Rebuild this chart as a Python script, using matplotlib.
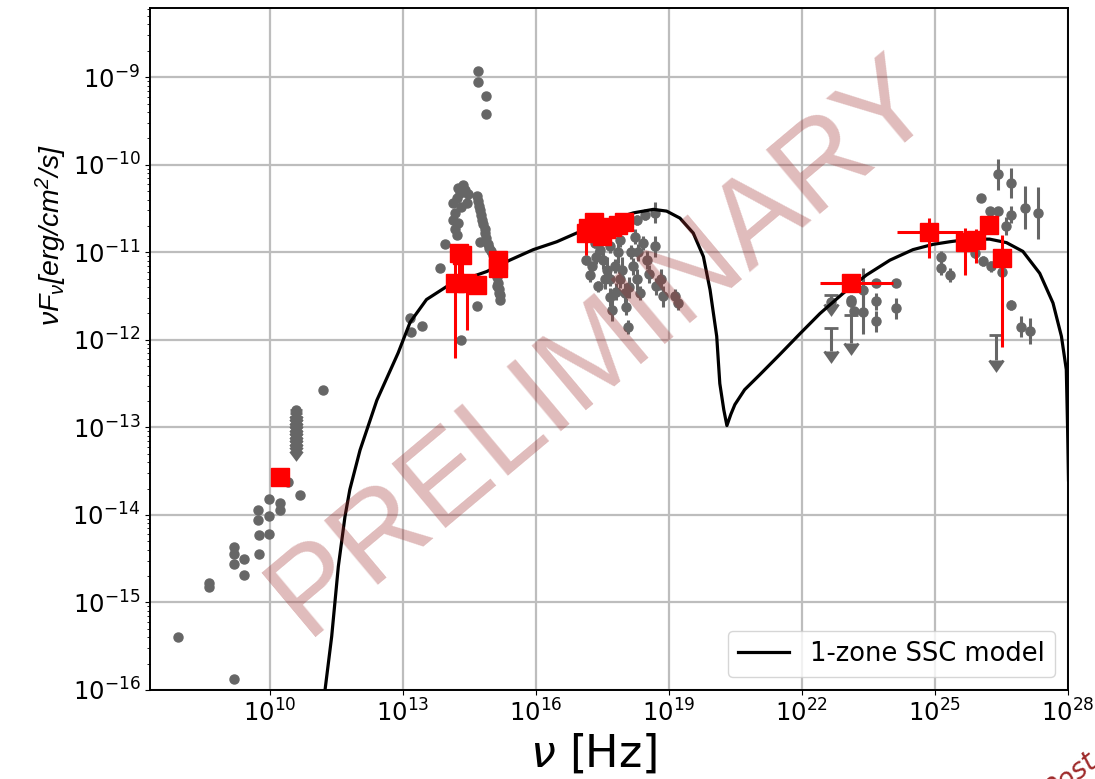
import numpy as np
import matplotlib
matplotlib.use('Agg')
import matplotlib.pyplot as plt
from matplotlib.ticker import NullLocator

# all values are log10(nu / Hz) and log10(nuFnu / erg cm^-2 s^-1); errors in dex

# archival radio points
radio_lognu = [7.92, 8.61, 8.61, 9.19, 9.19, 9.19, 9.19, 9.41, 9.41, 9.72, 9.72,
               9.75, 9.75, 9.98, 9.98, 9.98, 10.23, 10.23, 10.41, 10.68, 11.19]
radio_logf = [-15.39, -14.78, -14.82, -15.88, -14.37, -14.45, -14.56, -14.50, -14.69, -13.94, -14.06,
              -14.23, -14.45, -13.82, -14.01, -14.22, -13.86, -13.94, -13.62, -13.77, -12.57]
radio_err = [0.04, 0.02, 0.02, 0, 0, 0, 0, 0, 0, 0, 0,
             0, 0, 0, 0, 0, 0, 0, 0, 0, 0.04]

# radio upper limits stacked at one frequency
stack_lognu = [10.59] * 11
stack_logf = [-12.80, -12.84, -12.88, -12.92, -12.96, -13.00, -13.04, -13.08, -13.12, -13.16, -13.20]
stack_len = [0.07] * 11

# archival IR / optical / UV points
opt_lognu = [13.16, 13.18, 13.42, 13.83, 13.95, 14.30, 14.68, 14.70, 14.70, 14.87, 14.87,
             14.36, 14.25, 14.29, 14.21, 14.13, 14.32, 14.17, 14.13, 14.25, 14.17, 14.21, 14.44, 14.47, 14.40,
             14.68, 14.70, 14.72, 14.74, 14.77, 14.79, 14.81, 14.84, 14.86, 14.88, 14.91, 14.94,
             14.98, 15.02, 15.06, 15.09, 15.11, 15.13, 15.15, 15.17, 15.19, 15.20, 15.16, 15.12, 14.74]
opt_logf = [-11.75, -11.91, -11.84, -11.18, -10.90, -12.00, -11.61, -8.93, -9.05, -9.22, -9.42,
            -10.23, -10.27, -10.32, -10.38, -10.44, -10.48, -10.55, -10.63, -10.67, -10.74, -10.80, -10.44, -10.34, -10.29,
            -10.36, -10.42, -10.47, -10.52, -10.58, -10.63, -10.68, -10.73, -10.78, -10.84, -10.90, -10.95,
            -10.99, -11.03, -11.08, -11.14, -11.21, -11.28, -11.35, -11.42, -11.49, -11.55, -11.47, -11.38, -10.88]

# archival X-ray points
xray_lognu = [17.14, 17.22, 17.41, 17.26, 17.67, 17.71, 17.67, 17.52, 17.78, 17.90, 18.01, 18.04,
              18.08, 18.15, 18.19, 18.27, 18.35, 18.42, 18.50, 18.27, 18.46, 18.68, 18.68, 18.72,
              18.83, 18.87, 19.14, 19.21, 18.23, 18.04, 17.90, 17.67, 17.44, 17.33, 17.60, 17.85,
              17.95, 18.10, 17.80, 17.55, 18.30, 18.55, 17.35]
xray_logf = [-11.09, -11.26, -11.39, -11.16, -11.51, -11.66, -11.31, -11.09, -11.16, -11.31, -11.47, -11.62,
             -11.85, -11.00, -11.16, -11.31, -11.47, -10.89, -11.09, -10.63, -10.57, -10.55, -10.93, -11.39,
             -11.31, -11.50, -11.50, -11.58, -10.82, -10.70, -10.86, -10.93, -10.97, -10.89, -11.20, -11.00,
             -11.20, -11.40, -11.45, -11.30, -11.00, -11.25, -11.05]
xray_err = [0.06, 0.08, 0.06, 0.05, 0.10, 0.12, 0.08, 0.10, 0.08, 0.10, 0.12, 0.10,
            0.08, 0.08, 0.10, 0.12, 0.08, 0.08, 0.10, 0.06, 0.06, 0.12, 0.12, 0.10,
            0.12, 0.12, 0.08, 0.08, 0.08, 0.06, 0.08, 0.08, 0.06, 0.06, 0.15, 0.12,
            0.15, 0.12, 0.10, 0.12, 0.10, 0.10, 0.08]

# archival gamma-ray points
gam_lognu = [22.67, 23.12, 23.12, 23.17, 23.38, 23.38, 23.68, 23.68, 23.68, 24.13, 24.13,
             25.15, 25.15, 25.34, 25.90, 26.09, 26.28, 26.51, 26.05, 26.24, 26.43, 26.43,
             26.73, 26.73, 26.61, 27.03, 27.33, 26.73, 26.95, 27.14]
gam_logf = [-11.57, -11.54, -11.57, -11.67, -11.43, -11.68, -11.35, -11.56, -11.79, -11.35, -11.64,
            -11.05, -11.18, -11.26, -11.01, -11.10, -11.16, -11.22, -10.38, -10.53, -10.53, -10.11,
            -10.21, -10.57, -10.70, -10.49, -10.55, -11.60, -11.85, -11.90]
gam_err = [0.06, 0.05, 0.05, 0.05, 0.25, 0.25, 0.05, 0.10, 0.12, 0.03, 0.12,
           0.06, 0.08, 0.08, 0.06, 0.06, 0.06, 0.06, 0.05, 0.05, 0.05, 0.18,
           0.17, 0.10, 0.10, 0.25, 0.30, 0.06, 0.12, 0.15]

# gamma-ray upper limits
gul_lognu = [22.67, 22.67, 23.12, 26.39]
gul_logf = [-11.49, -11.87, -11.72, -11.94]
gul_len = [0.10, 0.26, 0.32, 0.29]

# simultaneous campaign data (red squares)
sim_lognu = [10.23, 14.17, 14.26, 14.33, 14.44, 14.66, 15.15, 15.15,
             17.14, 17.17, 17.31, 17.44, 17.50, 17.58, 17.71, 17.85, 17.99,
             23.12, 24.87, 25.68, 25.94, 26.23, 26.51]
sim_logf = [-13.57, -11.35, -11.01, -11.03, -11.35, -11.37, -11.09, -11.18,
            -10.78, -10.72, -10.65, -10.77, -10.81, -10.74, -10.71, -10.69, -10.66,
            -11.35, -10.77, -10.88, -10.86, -10.69, -11.07]
sim_xlo = [0, 0, 0, 0, 0, 0, 0, 0, 0, 0, 0, 0, 0, 0, 0, 0, 0, 0.71, 0.73, 0, 0, 0, 0]
sim_xhi = [0, 0, 0, 0, 0, 0, 0, 0, 0, 0, 0, 0, 0, 0, 0, 0, 0, 0.94, 0.76, 0, 0, 0, 0]
sim_ylo = [0, 0.86, 0.30, 0.30, 0.54, 0, 0.05, 0, 0.25, 0, 0, 0, 0, 0, 0, 0, 0,
           0.10, 0.30, 0.38, 0.26, 0, 1.01]
sim_yhi = [0, 0.30, 0.05, 0.05, 0.10, 0, 0.05, 0, 0, 0, 0, 0, 0, 0, 0, 0, 0,
           0.10, 0.16, 0.16, 0.12, 0, 0.27]

# one-zone SSC model curve
model_lognu = [11.22, 11.24, 11.39, 11.54, 11.69, 11.80, 12.03, 12.41, 12.89, 13.16, 13.53,
               13.99, 14.44, 14.89, 15.41, 15.94, 16.47, 16.92, 17.44, 17.82, 18.20, 18.65,
               18.95, 19.25, 19.55, 19.78, 19.93, 20.08, 20.15, 20.24, 20.31, 20.40, 20.49,
               20.71, 21.05, 21.50, 21.96, 22.41, 22.93, 23.46, 23.99, 24.51, 24.96, 25.34,
               25.79, 26.24, 26.62, 26.99, 27.37, 27.67, 27.86, 27.97, 28.00, 28.02]
model_logf = [-16.30, -16.00, -15.39, -14.59, -14.02, -13.71, -13.26, -12.69, -12.15, -11.80, -11.54,
              -11.39, -11.30, -11.22, -11.09, -10.97, -10.88, -10.78, -10.69, -10.61, -10.55, -10.51,
              -10.53, -10.61, -10.78, -11.05, -11.43, -11.96, -12.50, -12.80, -12.98, -12.85, -12.74,
              -12.57, -12.40, -12.17, -11.93, -11.70, -11.47, -11.26, -11.09, -10.97, -10.91, -10.88,
              -10.85, -10.85, -10.89, -10.99, -11.24, -11.58, -11.96, -12.34, -13.03, -13.60]


def lin(v):
    return np.power(10.0, np.asarray(v, dtype=float))


def asym(logv, lo, hi):
    v = lin(logv)
    return [v - v * lin(-np.asarray(lo, dtype=float)), v * lin(hi) - v]


plt.rcParams['font.family'] = ['DejaVu Sans']
# narrower italic face for the flux label, regular DejaVu for everything else
plt.rcParams['mathtext.fontset'] = 'custom'
plt.rcParams['mathtext.rm'] = 'DejaVu Sans'
plt.rcParams['mathtext.it'] = 'DejaVu Sans:italic'
plt.rcParams['mathtext.bf'] = 'DejaVu Sans:bold'
plt.rcParams['mathtext.sf'] = 'Liberation Sans:italic'
gray = '#666666'

fig = plt.figure(figsize=(10.95, 7.79), dpi=100)
ax = fig.add_axes([0.137, 0.1143, 0.838, 0.8754])
ax.set_xscale('log')
ax.set_yscale('log')

pt_style = dict(fmt='o', color=gray, ms=6.5, elinewidth=2.2, capsize=0, zorder=2)
for lx, ly, e in [(radio_lognu, radio_logf, radio_err),
                  (xray_lognu, xray_logf, xray_err),
                  (gam_lognu, gam_logf, gam_err)]:
    ax.errorbar(lin(lx), lin(ly), yerr=asym(ly, e, e), **pt_style)
ax.errorbar(lin(opt_lognu), lin(opt_logf), **pt_style)

# upper limits
y = lin(stack_logf)
ax.errorbar(lin(stack_lognu), y, yerr=y - y * lin(-np.asarray(stack_len)), uplims=True,
            fmt='o', color=gray, ms=6.5, elinewidth=2.2, capsize=4, capthick=2, zorder=2)
y = lin(gul_logf)
ax.errorbar(lin(gul_lognu), y, yerr=y - y * lin(-np.asarray(gul_len)), uplims=True,
            fmt='none', color=gray, ecolor=gray, elinewidth=2.2, capsize=5, capthick=2, zorder=2)

ax.plot(lin(model_lognu), lin(model_logf), color='black', lw=2.3,
        label='1-zone SSC model', zorder=3)

ax.errorbar(lin(sim_lognu), lin(sim_logf),
            xerr=asym(sim_lognu, sim_xlo, sim_xhi), yerr=asym(sim_logf, sim_ylo, sim_yhi),
            fmt='s', color='red', ms=12.5, elinewidth=2.2, capsize=0, zorder=4)

ax.set_xlim(10**7.29, 1e28)
ax.set_ylim(1e-16, 10**-8.21)
ax.set_xticks([1e10, 1e13, 1e16, 1e19, 1e22, 1e25, 1e28])
ax.xaxis.set_minor_locator(NullLocator())
ax.tick_params(labelsize=17.5)
ax.grid(True, which='major', color='#bdbdbd', lw=1.6)
for s in ax.spines.values():
    s.set_linewidth(1.4)

ax.set_xlabel(r'$\nu$ [Hz]', fontsize=32)
ax.xaxis.set_label_coords(0.484, -0.062)
ax.set_ylabel(r'$\mathsf{\nu F_{\nu}[erg/cm^{2}/s]}$', fontsize=20.5)
ax.yaxis.set_label_coords(-0.088, 0.667)
ax.legend(loc='lower right', fontsize=18.5)

fig.text(0.55, 0.555, 'PRELIMINARY', rotation=40, rotation_mode='anchor',
         ha='center', va='center', fontsize=88, family='Liberation Sans',
         color=(0.62, 0.18, 0.18), alpha=0.32, zorder=10)
fig.text(0.949, -0.027, 'Post', rotation=38, fontsize=20, style='italic',
         color='#9e2a2a', zorder=10)

fig.savefig('out.png', dpi=100)
